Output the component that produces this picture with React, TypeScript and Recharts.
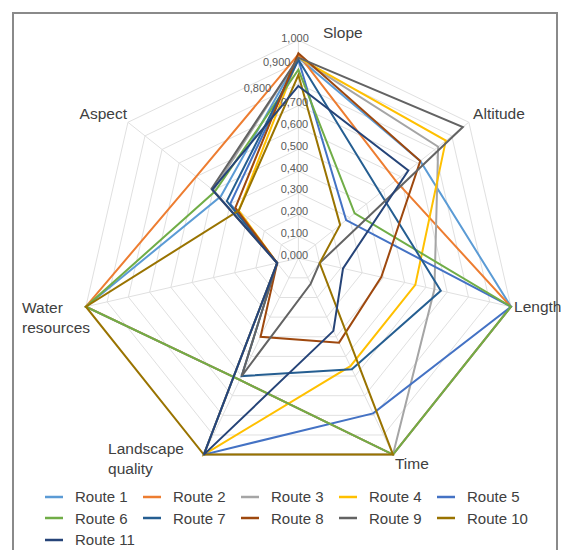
import React from 'react';
import { RadarChart, Radar, PolarGrid, PolarAngleAxis, PolarRadiusAxis, Legend } from 'recharts';

// criteria, clockwise from the top
const criteria = ['Slope', 'Altitude', 'Length', 'Time', 'Landscape quality', 'Water resources', 'Aspect'];

const routeNames = ['Route 1', 'Route 2', 'Route 3', 'Route 4', 'Route 5', 'Route 6', 'Route 7', 'Route 8', 'Route 9', 'Route 10', 'Route 11'];
const routeColors = ['#5B9BD5', '#ED7D31', '#A5A5A5', '#FFC000', '#4472C4', '#70AD47', '#255E91', '#9E480E', '#636363', '#997300', '#264478'];

// Slope, Altitude, Length, Time, Landscape quality, Water resources, Aspect
const route1 = [0.92, 0.715, 1.0, 1.0, 0.62, 1.0, 0.455];
const route2 = [0.935, 0.57, 1.0, 1.0, 0.62, 1.0, 0.6];
const route3 = [0.92, 0.82, 0.64, 1.0, 1.0, 0.1, 0.5];
const route4 = [0.92, 0.865, 0.55, 0.55, 1.0, 0.1, 0.35];
const route5 = [0.91, 0.28, 1.0, 0.79, 1.0, 0.1, 0.4];
const route6 = [0.865, 0.33, 1.0, 1.0, 0.62, 1.0, 0.49];
const route7 = [0.91, 0.48, 0.67, 0.565, 0.6, 0.1, 0.42];
const route8 = [0.94, 0.715, 0.39, 0.43, 0.4, 0.1, 0.37];
const route9 = [0.92, 0.965, 0.1, 0.13, 0.6, 0.1, 0.51];
const route10 = [0.84, 0.245, 0.1, 1.0, 1.0, 1.0, 0.35];
const route11 = [0.79, 0.645, 0.21, 0.37, 1.0, 0.1, 0.505];

const routes = [route1, route2, route3, route4, route5, route6, route7, route8, route9, route10, route11];

const radiusTicks = [0, 0.1, 0.2, 0.3, 0.4, 0.5, 0.6, 0.7, 0.8, 0.9, 1.0];

const data = criteria.map((c, i) => {
  const row: Record<string, string | number> = { criterion: c };
  routeNames.forEach((n, k) => { row[n] = routes[k][i]; });
  return row;
});

const FONT = '"Liberation Sans", Arial, sans-serif';
const W = 569;
const H = 550;
const CX = 298.4;
const CY = 258.2;
const R = 218;

// where excel put the category labels, relative to the spoke end
const labelPos: Record<string, { dx: number; dy: number; anchor: 'start' | 'end' }> = {
  Slope: { dx: 24.6, dy: 0, anchor: 'start' },
  Altitude: { dx: -2, dy: -4, anchor: 'start' },
  Length: { dx: -4.7, dy: -2.5, anchor: 'start' },
  Time: { dx: -1.5, dy: 1, anchor: 'start' },
  'Landscape quality': { dx: -92.3, dy: -14, anchor: 'start' },
  'Water resources': { dx: -56, dy: -1.5, anchor: 'start' },
  Aspect: { dx: 5.3, dy: -4, anchor: 'end' },
};

const AngleTick = (props: any) => {
  const { payload, index } = props;
  const name = String(payload.value);
  const a = ((90 - (index * 360) / criteria.length) * Math.PI) / 180;
  const x = CX + (R + 8) * Math.cos(a);
  const y = CY - (R + 8) * Math.sin(a);
  const p = labelPos[name];
  const lines = name.includes(' ') ? name.split(' ') : [name];
  return (
    <text x={x + p.dx} y={y + p.dy} textAnchor={p.anchor} dominantBaseline="central"
      fontFamily={FONT} fontSize={15.5} fill="#404040">
      {lines.map((l, i) => (
        <tspan key={l} x={x + p.dx} dy={i === 0 ? 0 : 20}>{l}</tspan>
      ))}
    </text>
  );
};

// 0.8 and 0.9 labels were pushed aside in the original
const RadiusTick = (props: any) => {
  const v = Number(props.payload.value);
  const step = Math.round(v * 10);
  let dx = -4;
  let dy = -3.5;
  if (step === 10) { dx = -3.4; dy = -2; }
  if (step === 9) { dx = -21.7; dy = 0; }
  if (step === 8) { dx = -41; dy = 4.5; }
  return (
    <text x={CX + dx} y={CY - R * v + dy} textAnchor="middle" dominantBaseline="central"
      fontFamily={FONT} fontSize={11} fill="#595959">
      {v.toFixed(3).replace('.', ',')}
    </text>
  );
};

const renderLegend = () => (
  <div style={{ display: 'flex', flexWrap: 'wrap', width: 500, fontFamily: FONT, fontSize: 15, color: '#404040' }}>
    {routeNames.map((n, i) => (
      <div key={n} style={{ width: 98, height: 21.5, display: 'flex', alignItems: 'center' }}>
        <svg width={30} height={10} style={{ flex: 'none' }}>
          <line x1={0} y1={5} x2={18} y2={5} stroke={routeColors[i]} strokeWidth={2.5} />
        </svg>
        <span style={{ whiteSpace: 'nowrap' }}>{n}</span>
      </div>
    ))}
  </div>
);

export default function App() {
  return (
    <div style={{ position: 'absolute', left: 0, top: 0, width: W, height: H, background: '#fff', overflow: 'hidden' }}>
      <div style={{ position: 'absolute', left: 12, top: 12, width: 542, height: 560, border: '2px solid #8a8a8a' }} />
      <div style={{ position: 'absolute', left: 0, top: 0 }}>
        <RadarChart width={W} height={H} data={data} cx={CX} cy={CY} outerRadius={R}
          margin={{ top: 0, right: 0, bottom: 0, left: 0 }}>
          <PolarGrid gridType="polygon" stroke="#e0e0e0" strokeWidth={1}
            polarRadius={radiusTicks.map((t) => t * R)} />
          <PolarAngleAxis dataKey="criterion" tick={AngleTick} tickLine={false} axisLine={false} />
          <PolarRadiusAxis angle={90} type="number" domain={[0, 1]} ticks={radiusTicks as any}
            tickCount={11} tick={RadiusTick} axisLine={false} tickLine={false} />
          {routeNames.map((n, i) => (
            <Radar key={n} name={n} dataKey={n} stroke={routeColors[i]} strokeWidth={2}
              fill="none" fillOpacity={0} dot={false} isAnimationActive={false} />
          ))}
          <Legend content={renderLegend} wrapperStyle={{ left: 45, top: 486, width: 500 }} />
        </RadarChart>
      </div>
    </div>
  );
}
